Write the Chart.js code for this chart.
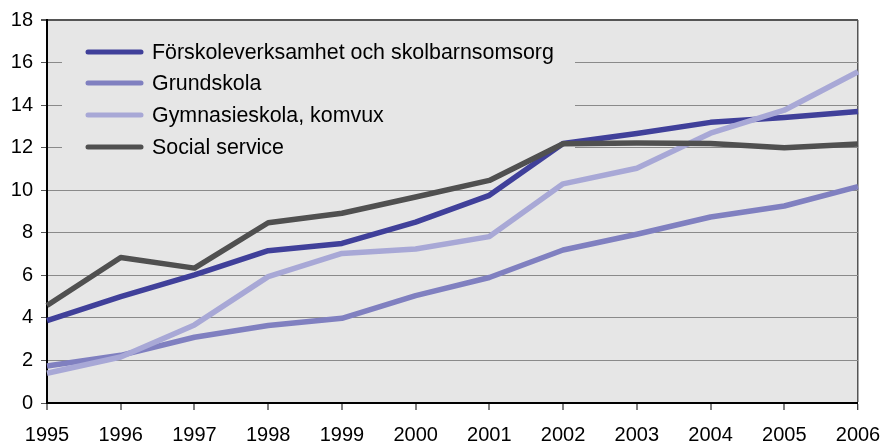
<!DOCTYPE html>
<html>
<head>
<meta charset="utf-8">
<script src="https://cdn.jsdelivr.net/npm/chart.js@4/dist/chart.umd.min.js"></script>
<style>
  html, body { margin: 0; padding: 0; background: #ffffff; }
  #wrap { width: 883px; height: 443px; }
</style>
</head>
<body>
<div id="wrap"><canvas id="c" width="883" height="443"></canvas></div>
<script>
const years = ["1995","1996","1997","1998","1999","2000","2001","2002","2003","2004","2005","2006"];
const seriesNames = ["Förskoleverksamhet och skolbarnsomsorg", "Grundskola", "Gymnasieskola, komvux", "Social service"];
const forskole = [3.87, 5.0, 6.02, 7.16, 7.5, 8.5, 9.76, 12.2, 12.67, 13.19, 13.42, 13.7];
const grundskola = [1.74, 2.24, 3.09, 3.64, 3.98, 5.05, 5.9, 7.19, 7.93, 8.74, 9.26, 10.17];
const gymnasie = [1.4, 2.16, 3.67, 5.94, 7.03, 7.24, 7.82, 10.3, 11.03, 12.68, 13.76, 15.57];
const social = [4.58, 6.84, 6.34, 8.47, 8.92, 9.68, 10.46, 12.18, 12.22, 12.2, 12.0, 12.17];
const yTicks = [0, 2, 4, 6, 8, 10, 12, 14, 16, 18];

const colors = ["#40409a", "#8080c0", "#a8a8d6", "#505050"];
const FONT = "'Liberation Sans', Arial, sans-serif";

const plotPlugin = {
  id: 'plotDecor',
  beforeDraw(chart) {
    const a = chart.chartArea, ctx = chart.ctx;
    ctx.save();
    ctx.fillStyle = '#e6e6e6';
    ctx.fillRect(a.left, a.top, a.right - a.left, a.bottom - a.top);
    ctx.restore();
  },
  beforeDatasetsDraw(chart) {
    const ctx = chart.ctx;
    ctx.save();
    ctx.fillStyle = '#e6e6e6';
    ctx.fillRect(62, 30, 575 - 62, 138);
    ctx.restore();
  },
  afterDatasetsDraw(chart) {
    const ctx = chart.ctx;
    ctx.save();
    const rows = [52, 83, 115, 147];
    chart.data.datasets.forEach((ds, i) => {
      const y = rows[i];
      ctx.strokeStyle = ds.borderColor;
      ctx.lineWidth = 5;
      ctx.lineCap = 'round';
      ctx.beginPath();
      ctx.moveTo(88, y);
      ctx.lineTo(141, y);
      ctx.stroke();
      ctx.fillStyle = '#000';
      ctx.font = '21.4px ' + FONT;
      ctx.textBaseline = 'middle';
      ctx.textAlign = 'left';
      ctx.fillText(ds.label, 152, y + 1);
    });
    ctx.restore();
  }
};

const mk = (i, data, order) => ({
  label: seriesNames[i],
  data: data,
  borderColor: colors[i],
  backgroundColor: colors[i],
  borderWidth: 5.5,
  pointRadius: 0,
  pointHoverRadius: 0,
  tension: 0,
  borderJoinStyle: 'round',
  fill: false,
  order: order
});

new Chart(document.getElementById('c'), {
  type: 'line',
  data: {
    labels: years,
    datasets: [
      mk(0, forskole, 3),
      mk(1, grundskola, 2),
      mk(2, gymnasie, 1),
      mk(3, social, 0)
    ]
  },
  options: {
    responsive: false,
    animation: false,
    devicePixelRatio: 1,
    layout: { padding: { left: 0, right: 25, top: 20, bottom: 0 } },
    plugins: {
      legend: { display: false },
      tooltip: { enabled: false },
      title: { display: false }
    },
    scales: {
      x: {
        offset: false,
        afterFit: s => { s.height = 40; s.paddingRight = 0; s.paddingLeft = 0; },
        grid: {
          drawOnChartArea: true,
          color: c => (c.index === years.length - 1 ? '#555555' : 'rgba(0,0,0,0)'),
          lineWidth: c => (c.index === years.length - 1 ? 1.5 : 0),
          tickColor: '#000000',
          tickLength: 7,
          tickWidth: 1
        },
        border: { display: true, color: '#000000', width: 2 },
        ticks: {
          color: '#000000',
          font: { family: FONT, size: 20 },
          padding: 13,
          maxRotation: 0,
          autoSkip: false
        }
      },
      y: {
        min: 0,
        max: 18,
        afterFit: s => { s.width = 47; s.paddingTop = 0; s.paddingBottom = 0; },
        afterBuildTicks: s => { s.ticks = yTicks.map(v => ({ value: v })); },
        grid: {
          color: c => (c.tick && c.tick.value === 18 ? '#555555' : '#8a8a8a'),
          lineWidth: c => (c.tick && c.tick.value === 18 ? 2 : 1),
          tickColor: '#555555',
          tickLength: 6
        },
        border: { display: true, color: '#000000', width: 2 },
        ticks: {
          color: '#000000',
          font: { family: FONT, size: 20 },
          padding: 8
        }
      }
    }
  },
  plugins: [plotPlugin]
});
</script>
</body>
</html>
